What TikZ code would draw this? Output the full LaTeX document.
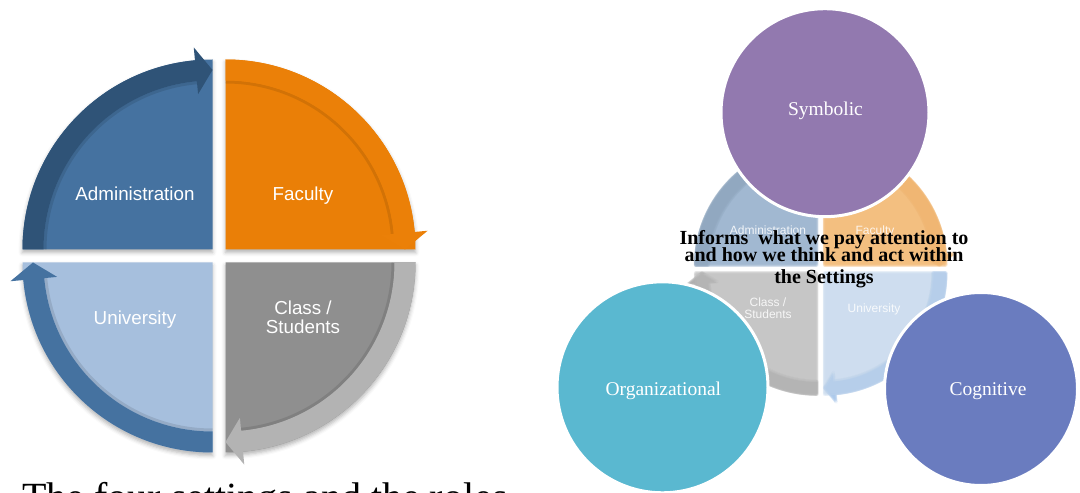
\documentclass[tikz,border=0pt]{standalone}
\usepackage{fontspec}
\setmainfont{Liberation Serif}
\setsansfont{Liberation Sans}
\usetikzlibrary{shadows.blur}

% cycle quadrants
\definecolor{admFill}{HTML}{4572A0}
\definecolor{admBand}{HTML}{2F5377}
\definecolor{facFill}{HTML}{EA7F07}
\definecolor{facBand}{HTML}{EB8008}
\definecolor{clsFill}{HTML}{8F8F8F}
\definecolor{clsBand}{HTML}{B3B3B3}
\definecolor{uniFill}{HTML}{A6BFDD}
\definecolor{uniBand}{HTML}{4572A0}
% washed-out copy behind the lenses
\definecolor{fAdmFill}{HTML}{9DB5CF}
\definecolor{fAdmBand}{HTML}{8CA2B8}
\definecolor{fFacFill}{HTML}{F3BC7B}
\definecolor{fFacBand}{HTML}{F0B46E}
\definecolor{fClsFill}{HTML}{C4C4C4}
\definecolor{fClsBand}{HTML}{ABABAB}
\definecolor{fUniFill}{HTML}{CCDCEE}
\definecolor{fUniBand}{HTML}{A9C7EA}
% lenses
\definecolor{symbCol}{HTML}{9279AF}
\definecolor{orgCol}{HTML}{5AB8D0}
\definecolor{cogCol}{HTML}{6A7CBF}

% one quarter of the cycle: corner, start angle, end angle (clockwise),
% fill colour, band colour, extra options for the quarter disc
\newcommand{\ringquad}[6]{%
  \begin{scope}[shift={#1}]
    \fill[#4,#6] (0,0) -- (#2:190) arc[start angle=#2, end angle=#3, radius=190] -- cycle;
    \pgfmathsetmacro{\headbase}{#3+5.3}
    \path[bandshade]
      (#2:167.5) arc[start angle=#2, end angle=\headbase, radius=167.5];
    \fill[#5] (#2:190) arc[start angle=#2, end angle=\headbase, radius=190]
      -- (\headbase:203) -- (#3:179.5) -- (\headbase:156) -- (\headbase:169)
      arc[start angle=\headbase, end angle=#2, radius=169] -- cycle;
  \end{scope}}

% the washed-out cycle shapes, drawn several times with small offsets for a soft look
\newcommand{\fadedcycle}{%
  \begin{scope}[scale=0.642]
    \ringquad{(-5.5,5.5)}{180}{90}{fAdmFill}{fAdmBand}{plain}
    \ringquad{(5.5,5.5)}{90}{0}{fFacFill}{fFacBand}{plain}
    \ringquad{(5.5,-5.5)}{0}{-90}{fUniFill}{fUniBand}{plain}
    \ringquad{(-5.5,-5.5)}{-90}{-180}{fClsFill}{fClsBand}{plain}
  \end{scope}}

\begin{document}
\begin{tikzpicture}[x=1pt,y=1pt,
  quadshadow/.style={blur shadow={shadow xshift=0pt, shadow yshift=-3pt,
      shadow blur radius=4pt, shadow opacity=30}},
  plain/.style={},
  bandshade/.style={draw=black, draw opacity=0.10, line width=3pt},
  sectlabel/.style={text=white, font=\sffamily\fontsize{18.8}{20}\selectfont,
      inner sep=0, anchor=base},
  fadelabel/.style={text=white, text opacity=0.85,
      font=\sffamily\fontsize{12}{13}\selectfont, inner sep=0, anchor=base},
  lens/.style={circle, draw=white, line width=3pt, inner sep=0},
  lenslabel/.style={text=white, font=\fontsize{19.5}{22}\selectfont,
      inner sep=0, anchor=base},
  infotext/.style={font=\bfseries\fontsize{20}{22}\selectfont,
      inner sep=0, anchor=base},
  bodytext/.style={font=\fontsize{40}{44}\selectfont, inner sep=0,
      anchor=base west},
]
\useasboundingbox (0,0) rectangle (1080,493);
\clip (0,0) rectangle (1080,493);

% ---------------- the four settings cycle ----------------
\begin{scope}[shift={(219,237)}]
  \ringquad{(-6.5,6.5)}{180}{90}{admFill}{admBand}{quadshadow}
  \ringquad{(6.5,6.5)}{90}{0}{facFill}{facBand}{quadshadow}
  \ringquad{(6.5,-6.5)}{0}{-90}{clsFill}{clsBand}{quadshadow}
  \ringquad{(-6.5,-6.5)}{-90}{-180}{uniFill}{uniBand}{quadshadow}
  \node[sectlabel] (adm) at (-84,55.3) {Administration};
  \node[sectlabel] (fac) at (84,55.3) {Faculty};
  \node[sectlabel] (uni) at (-84,-69) {University};
  \node[sectlabel] (cls1) at (84,-59) {Class /};
  \node[sectlabel] (cls2) at (84,-78) {Students};
\end{scope}

% ---------------- washed-out cycle behind the lenses ----------------
\foreach \dx/\dy in {0/0, 1.3/0, -1.3/0, 0/1.3, 0/-1.3, 1/1, -1/1, 1/-1, -1/-1} {
  \begin{scope}[shift={(820.7+\dx,224+\dy)}, opacity=0.3,
      bandshade/.style={draw=none}]
    \fadedcycle
  \end{scope}
}
\begin{scope}[shift={(820.7,224)}]
  \node[fadelabel] (fadm) at (-52.7,34.5) {Administration};
  \node[fadelabel] (ffac) at (54.3,34.5) {Faculty};
  \node[fadelabel] (fcls1) at (-52.7,-37.5) {Class /};
  \node[fadelabel] (fcls2) at (-52.7,-49.5) {Students};
  \node[fadelabel] (funi) at (53.3,-43.5) {University};
\end{scope}

% ---------------- three lenses ----------------
\node[lens, fill=symbCol, minimum size=208pt] (symbolic) at (825,380.3) {};
\node[lens, fill=orgCol, minimum size=211pt] (organizational) at (662.5,105.7) {};
\node[lens, fill=cogCol, minimum size=193pt] (cognitive) at (981,104) {};
\node[lenslabel] (symbtxt) at (825.5,377.5) {Symbolic};
\node[lenslabel] (orgtxt) at (663.3,97) {Organizational};
\node[lenslabel] (cogtxt) at (988,97) {Cognitive};

% ---------------- caption in the middle ----------------
\node[infotext] (info1) at (824,248) {Informs\ \ what we pay attention to};
\node[infotext] (info2) at (824,231.3) {and how we think and act within};
\node[infotext] (info3) at (824,209.7) {the Settings};

% ---------------- running text cut by the page edge ----------------
\node[bodytext] (bodyline) at (22,-18) {The four settings and the roles};

\end{tikzpicture}
\end{document}
